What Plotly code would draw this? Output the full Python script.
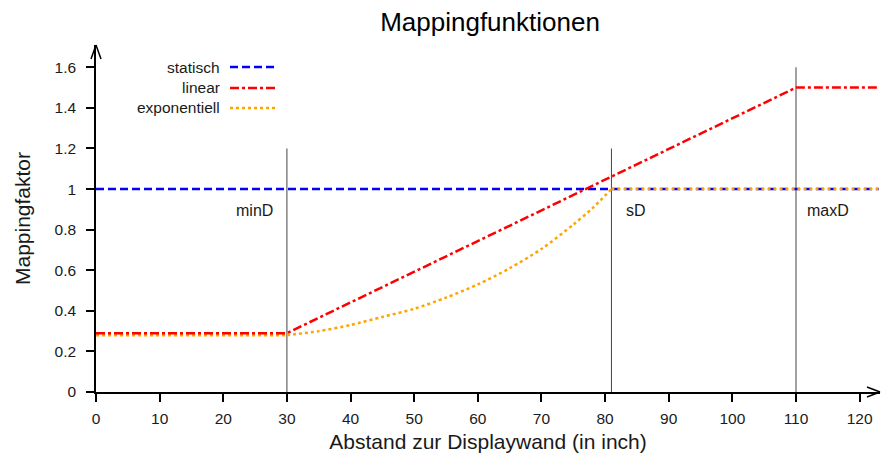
import plotly.graph_objects as go

# ---- data ----
x_static = [0, 123]
y_static = [1.0, 1.0]

x_linear = [0, 30, 110, 123]
y_linear = [0.29, 0.29, 1.5, 1.5]

# exponential mapping: flat part before minD, curved part between minD and sD, flat after sD
x_exp_low = [0, 30]
y_exp_low = [0.28, 0.28]
x_exp_curve = [30, 35, 40, 45, 50, 55, 60, 65, 70, 75, 78, 81]
y_exp_curve = [0.28, 0.30, 0.33, 0.37, 0.41, 0.465, 0.53, 0.61, 0.705, 0.825, 0.905, 1.0]
x_exp_high = [81, 123]
y_exp_high = [1.0, 1.0]

marker_x = [30, 81, 110]
marker_top = [1.2, 1.2, 1.6]
marker_labels = ["minD", "sD", "maxD"]
marker_label_x = [28.2, 83.0, 111.4]
marker_label_anchor = ["right", "left", "left"]
marker_label_y = 0.895

series_names = ["statisch", "linear", "exponentiell"]
series_colors = ["#0000ff", "#ff0000", "#ffa500"]
series_dash = ["8px,4px", "9px,3px,3px,3px", "3px,3px"]

x_ticks = list(range(0, 121, 10))
y_ticks = [0, 0.2, 0.4, 0.6, 0.8, 1.0, 1.2, 1.4, 1.6]
y_tick_labels = ["0", "0.2", "0.4", "0.6", "0.8", "1", "1.2", "1.4", "1.6"]

X_MAX = 123.2
Y_MAX = 1.71

FONT = "Liberation Sans, Arial, Helvetica, sans-serif"
TXT = "#1a1a1a"

fig = go.Figure()

# vertical marker lines
for mx, mt in zip(marker_x, marker_top):
    fig.add_trace(go.Scatter(x=[mx, mx], y=[0, mt], mode="lines",
                             line=dict(color="#444444", width=1),
                             showlegend=False, hoverinfo="skip"))

def add_line(xs, ys, col, dsh, shape="linear"):
    fig.add_trace(go.Scatter(x=xs, y=ys, mode="lines",
                             line=dict(color=col, width=2.5, dash=dsh, shape=shape,
                                       smoothing=0.8),
                             showlegend=False, hoverinfo="skip"))

add_line(x_static, y_static, series_colors[0], series_dash[0])
add_line(x_exp_low, y_exp_low, series_colors[2], series_dash[2])
add_line(x_exp_curve, y_exp_curve, series_colors[2], series_dash[2], shape="spline")
add_line(x_exp_high, y_exp_high, series_colors[2], series_dash[2])
add_line(x_linear, y_linear, series_colors[1], series_dash[1])

annotations = []
for lx, lbl, anc in zip(marker_label_x, marker_labels, marker_label_anchor):
    annotations.append(dict(x=lx, y=marker_label_y, text=lbl, showarrow=False,
                            xanchor=anc, yanchor="middle",
                            font=dict(size=16, color=TXT, family=FONT)))

shapes = []
# custom legend (text right, sample left)
legend_y_px = [67, 88, 108]
plot_left, plot_right, plot_top, plot_bottom = 96, 880, 45, 392
pw = plot_right - plot_left
ph = plot_bottom - plot_top
for name, col, dsh, ypx in zip(series_names, series_colors, series_dash, legend_y_px):
    yp = (plot_bottom - ypx) / ph
    annotations.append(dict(xref="paper", yref="paper", x=(222 - plot_left) / pw, y=yp,
                            text=name, showarrow=False, xanchor="right", yanchor="middle",
                            font=dict(size=15.5, color=TXT, family=FONT)))
    shapes.append(dict(type="line", xref="paper", yref="paper",
                       x0=(230 - plot_left) / pw, x1=(276 - plot_left) / pw, y0=yp, y1=yp,
                       line=dict(color=col, width=2.5, dash=dsh)))

# axis arrowheads (open V), in pixel offsets anchored at the axis ends
for dy in (5, -5):
    shapes.append(dict(type="line", xref="paper", yref="paper", xsizemode="pixel", ysizemode="pixel",
                       xanchor=1, yanchor=0, x0=-13, y0=dy, x1=0, y1=0,
                       line=dict(color="black", width=1.5)))
for dx in (5, -5):
    shapes.append(dict(type="line", xref="paper", yref="paper", xsizemode="pixel", ysizemode="pixel",
                       xanchor=0, yanchor=1, x0=dx, y0=-14, x1=0, y1=0,
                       line=dict(color="black", width=1.5)))

fig.update_layout(
    width=882, height=455,
    margin=dict(l=plot_left, r=882 - plot_right, t=plot_top, b=455 - plot_bottom),
    paper_bgcolor="white", plot_bgcolor="white",
    font=dict(family=FONT, size=15, color=TXT),
    title=dict(text="Mappingfunktionen", x=490 / 882, xanchor="center",
               y=1 - 22 / 455, yanchor="middle", font=dict(size=26, color="black")),
    annotations=annotations, shapes=shapes,
    showlegend=False,
)
fig.update_xaxes(range=[0, X_MAX], tickvals=x_ticks, ticks="outside", ticklen=8,
                 tickcolor="black", tickwidth=1.5, showline=True, linecolor="black",
                 linewidth=1.5, showgrid=False, zeroline=False, ticklabelstandoff=4,
                 title=dict(text="Abstand zur Displaywand (in inch)", font=dict(size=21, color=TXT),
                            standoff=8),
                 tickfont=dict(size=15.5))
fig.update_yaxes(range=[0, Y_MAX], tickvals=y_ticks, ticktext=y_tick_labels, ticks="outside",
                 ticklen=8, tickcolor="black", tickwidth=1.5, showline=True, linecolor="black",
                 linewidth=1.5, showgrid=False, zeroline=False, ticklabelstandoff=7,
                 title=dict(text="Mappingfaktor", font=dict(size=21, color=TXT), standoff=18),
                 tickfont=dict(size=15.5))

fig.write_html("out.html")
